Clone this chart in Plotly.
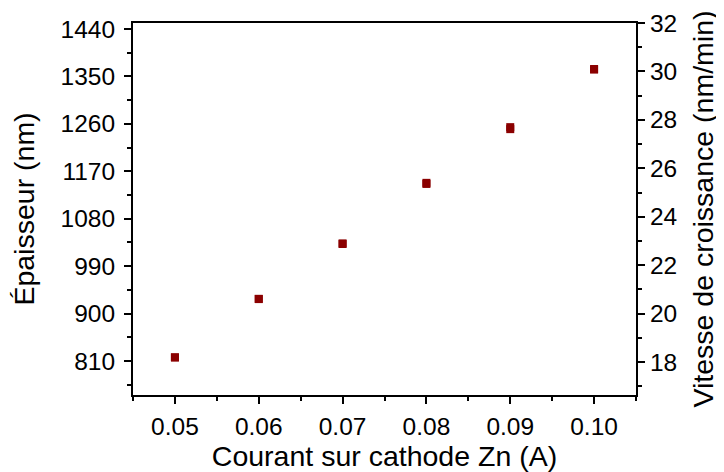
import plotly.graph_objects as go

# ---------------------------------------------------------------
# DATA
# ---------------------------------------------------------------
courant = [0.05, 0.06, 0.07, 0.08, 0.09, 0.10]
epaisseur = [817, 928, 1032, 1146, 1250, 1363]
vitesse = [18.19, 20.6, 22.9, 25.4, 27.7, 30.1]

RED = "#8B0000"
FONT = "Liberation Sans, Arial, sans-serif"

fig = go.Figure()

fig.add_trace(go.Scatter(
    x=courant, y=epaisseur, mode="markers", yaxis="y",
    marker=dict(symbol="square", size=8, color=RED),
    showlegend=False,
))
fig.add_trace(go.Scatter(
    x=courant, y=vitesse, mode="markers", yaxis="y2",
    marker=dict(symbol="square", size=8, color=RED),
    showlegend=False,
))

axis_common = dict(
    showgrid=False, zeroline=False, automargin=False,
    showline=True, linecolor="black", linewidth=2,
    ticks="outside", ticklen=7, tickwidth=2, tickcolor="black",
    tickfont=dict(size=24.5, color="black", family=FONT),
)
minor_common = dict(ticks="outside", ticklen=4, tickwidth=2, tickcolor="black")

# page body has an 8px margin, so the figure is a bit smaller than the window
fig.update_layout(
    width=716, height=464,
    margin=dict(l=125, r=88, t=15, b=77),
    plot_bgcolor="white", paper_bgcolor="white",
    font=dict(family=FONT, color="black"),
    xaxis=dict(
        **axis_common,
        range=[0.045, 0.105], dtick=0.01, tick0=0, tickformat=".2f",
        mirror=True, ticklabelstandoff=2,
        minor=dict(**minor_common, dtick=0.005, tick0=0),
        title=dict(text="Courant sur cathode Zn (A)", font=dict(size=28.5), standoff=2),
    ),
    yaxis=dict(
        **axis_common,
        range=[745.5, 1451.4], dtick=90, tick0=0, ticklabelstandoff=4,
        minor=dict(**minor_common, dtick=45, tick0=0),
        title=dict(text="Épaisseur (nm)", font=dict(size=28.5), standoff=20),
    ),
    yaxis2=dict(
        **axis_common,
        overlaying="y", side="right",
        range=[16.64, 32.0], dtick=2, tick0=0, ticklabelstandoff=0,
        minor=dict(**minor_common, dtick=1, tick0=0),
        title=dict(text="Vitesse de croissance (nm/min)", font=dict(size=28.5), standoff=17),
    ),
)

fig.write_html("out.html")
